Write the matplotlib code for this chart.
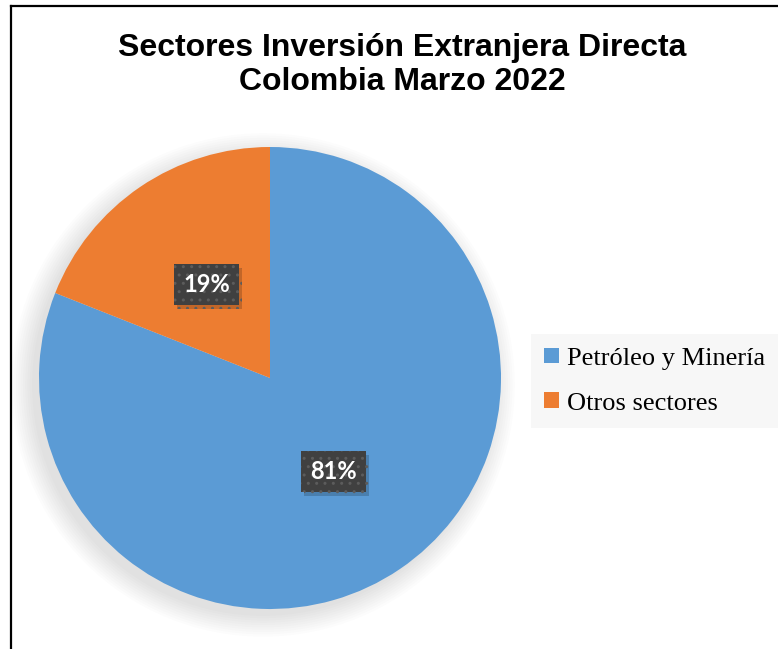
import matplotlib.pyplot as plt
import matplotlib.patheffects as pe
from matplotlib.lines import Line2D
from matplotlib.patches import Circle

# data
sectors = ["Petróleo y Minería", "Otros sectores"]
shares = [81, 19]
colors = ["#5B9BD5", "#ED7D31"]
title = "Sectores Inversión Extranjera Directa\nColombia Marzo 2022"


def main():
    fig = plt.figure(figsize=(7.78, 6.49), dpi=100)
    W, H = 778, 649

    # pie axes: center (270, 378) px, radius 231 px
    cx, cy, r = 270, 378, 231
    ax = fig.add_axes([(cx - r) / W, (H - cy - r) / H, 2 * r / W, 2 * r / H])

    # soft shadow behind the pie (offset down-left)
    for i in range(10):
        rad = 1.0 + 0.01 * i
        ax.add_patch(Circle((-0.03, -0.03), rad, fc="#000000", ec="none",
                            alpha=0.012, zorder=0, clip_on=False))

    wedges, texts, autotexts = ax.pie(
        shares, colors=colors, startangle=90, counterclock=False,
        autopct="%d%%", pctdistance=0.49, radius=1.0,
        wedgeprops=dict(linewidth=0, zorder=2),
        textprops=dict(color="white", fontsize=17, fontweight="bold",
                       family=["Lato", "DejaVu Sans"]))
    ax.set_xlim(-1, 1)
    ax.set_ylim(-1, 1)
    ax.set_aspect("equal")
    ax.axis("off")

    for t in autotexts:
        t.set_zorder(5)
        t.set_bbox(dict(boxstyle="square,pad=0.38", fc="#404040", ec="#5c5c5c",
                        lw=0, hatch=".."))
        t.get_bbox_patch().set_path_effects([
            pe.SimplePatchShadow(offset=(2, -3), shadow_rgbFace="black", alpha=0.18),
            pe.Normal()])

    fig.text(402 / W, (H - 65) / H, title, ha="center", va="center",
             fontsize=23, fontweight="bold", family=["Liberation Sans", "DejaVu Sans"],
             linespacing=1.2)

    fig.legend(wedges, sectors, loc="center left",
               bbox_to_anchor=(531 / W, (H - 381) / H),
               prop=dict(family=["Liberation Serif", "DejaVu Serif"], size=19),
               frameon=True, fancybox=False, facecolor="#f7f7f7",
               edgecolor="none", framealpha=1, handlelength=0.55,
               handleheight=0.55, handletextpad=0.3, labelspacing=0.85,
               borderpad=0.5, borderaxespad=0)

    # chart border (left and top visible)
    fig.add_artist(Line2D([10.5 / W, 10.5 / W], [0, (H - 6) / H],
                          transform=fig.transFigure, color="black", lw=1.6))
    fig.add_artist(Line2D([10.5 / W, 1], [(H - 6) / H, (H - 6) / H],
                          transform=fig.transFigure, color="black", lw=1.6))

    fig.savefig("out.png", dpi=100)


if __name__ == "__main__":
    main()
